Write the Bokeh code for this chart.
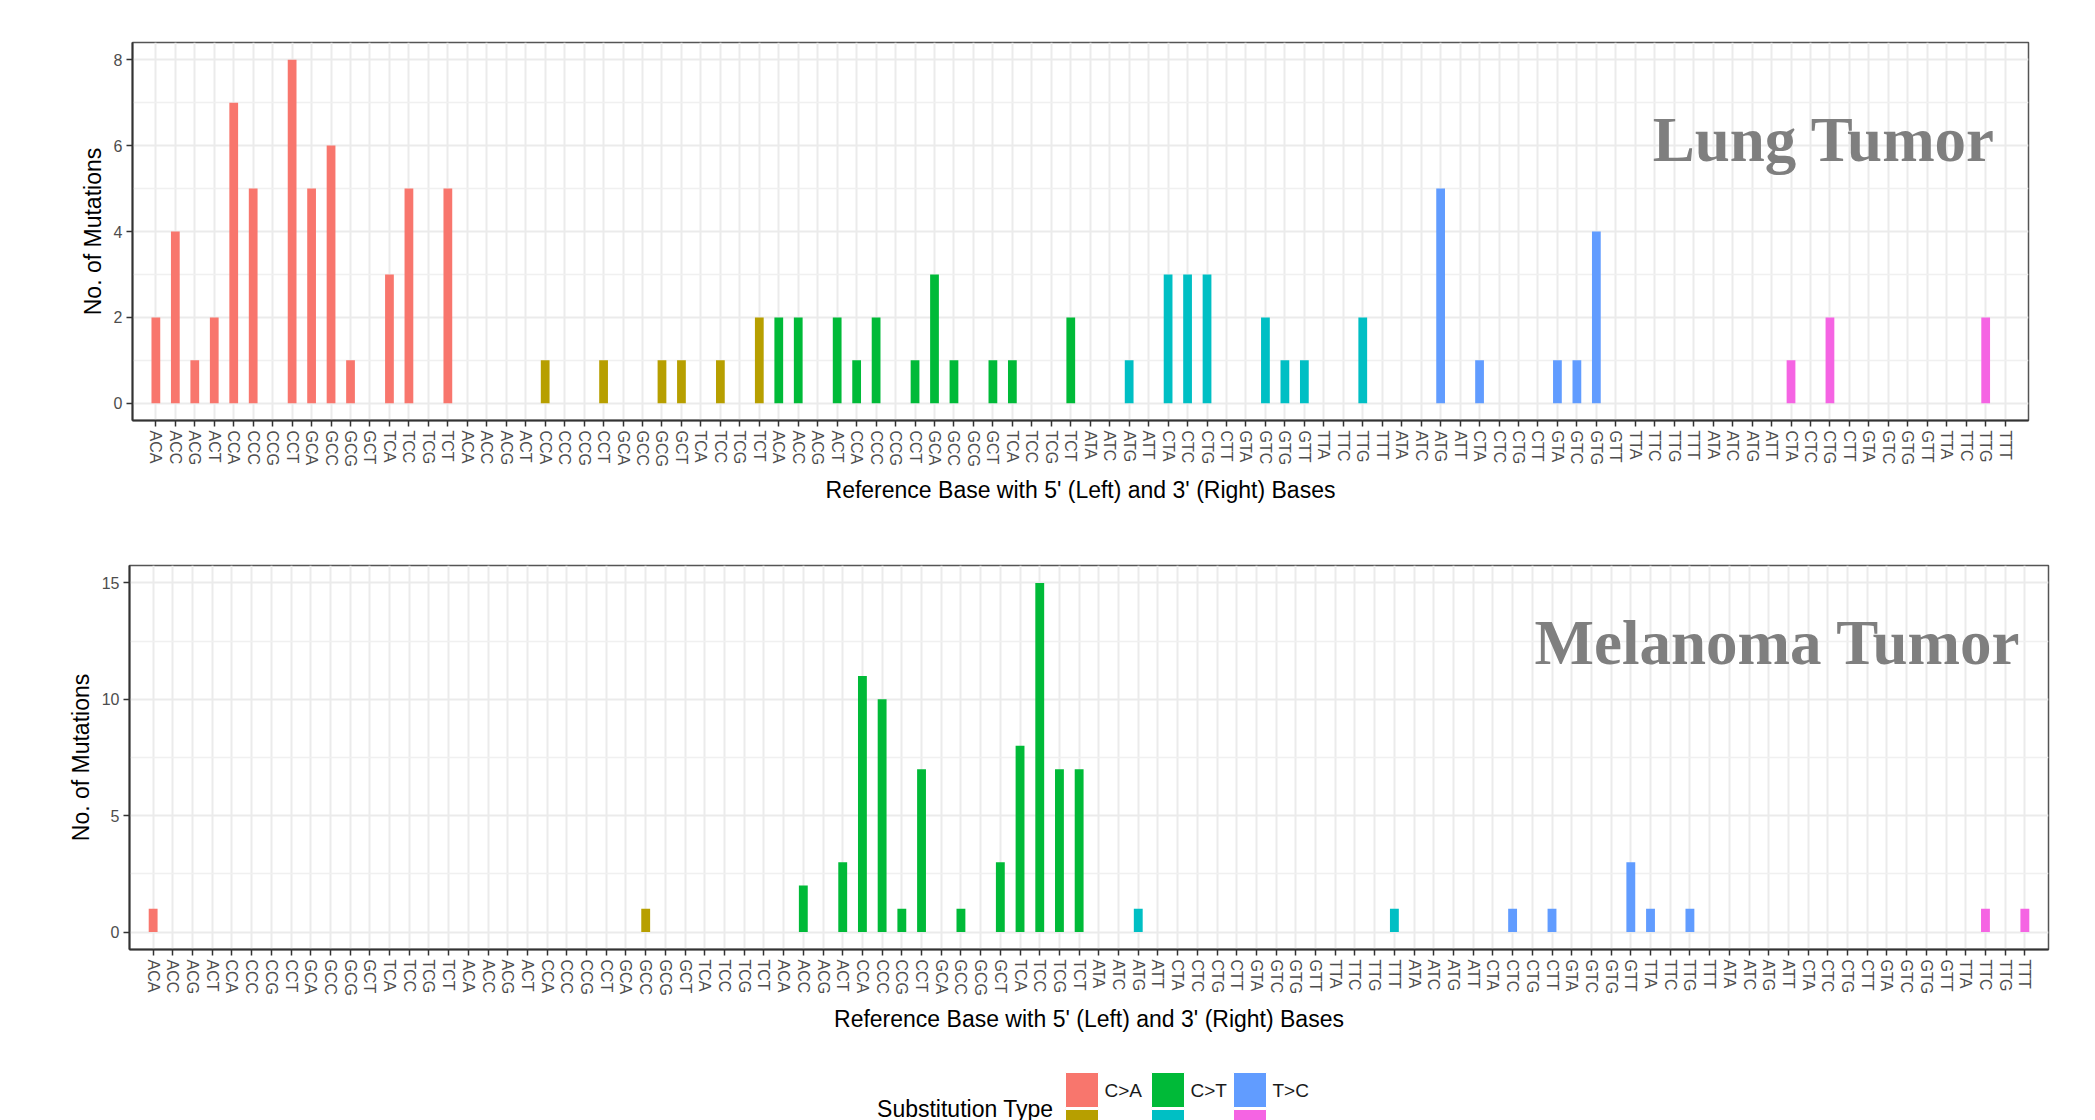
from bokeh.plotting import figure
from bokeh.layouts import column, row
from bokeh.models import Range1d, FixedTicker, Label
from bokeh.embed import file_html
from bokeh.resources import INLINE

# ---------------- data ----------------
sub_types = ["C>A", "C>G", "C>T", "T>A", "T>C", "T>G"]
sub_colors = ["#F8766D", "#B79F00", "#00BA38", "#00BFC4", "#619CFF", "#F564E3"]
ctx_C = ["ACA", "ACC", "ACG", "ACT", "CCA", "CCC", "CCG", "CCT",
         "GCA", "GCC", "GCG", "GCT", "TCA", "TCC", "TCG", "TCT"]
ctx_T = ["ATA", "ATC", "ATG", "ATT", "CTA", "CTC", "CTG", "CTT",
         "GTA", "GTC", "GTG", "GTT", "TTA", "TTC", "TTG", "TTT"]

lung_CA = [2, 4, 1, 2, 7, 5, 0, 8, 5, 6, 1, 0, 3, 5, 0, 5]
lung_CG = [0, 0, 0, 0, 1, 0, 0, 1, 0, 0, 1, 1, 0, 1, 0, 2]
lung_CT = [2, 2, 0, 2, 1, 2, 0, 1, 3, 1, 0, 1, 1, 0, 0, 2]
lung_TA = [0, 0, 1, 0, 3, 3, 3, 0, 0, 2, 1, 1, 0, 0, 2, 0]
lung_TC = [0, 0, 5, 0, 1, 0, 0, 0, 1, 1, 4, 0, 0, 0, 0, 0]
lung_TG = [0, 0, 0, 0, 1, 0, 2, 0, 0, 0, 0, 0, 0, 0, 2, 0]

mel_CA = [1, 0, 0, 0, 0, 0, 0, 0, 0, 0, 0, 0, 0, 0, 0, 0]
mel_CG = [0, 0, 0, 0, 0, 0, 0, 0, 0, 1, 0, 0, 0, 0, 0, 0]
mel_CT = [0, 2, 0, 3, 11, 10, 1, 7, 0, 1, 0, 3, 8, 15, 7, 7]
mel_TA = [0, 0, 1, 0, 0, 0, 0, 0, 0, 0, 0, 0, 0, 0, 0, 1]
mel_TC = [0, 0, 0, 0, 0, 1, 0, 1, 0, 0, 0, 3, 1, 0, 1, 0]
mel_TG = [0, 0, 0, 0, 0, 0, 0, 0, 0, 0, 0, 0, 0, 1, 0, 1]

lung_y_ticks = [0, 2, 4, 6, 8]
lung_y_minor = [1, 3, 5, 7]
mel_y_ticks = [0, 5, 10, 15]
mel_y_minor = [2.5, 7.5, 12.5]

FONT = "Liberation Sans"
W = 2095


def build_panel(series, y_ticks, y_minor, y_lo, y_hi, name, name_x, name_y,
                height, mb_left, mb_right, mb_top, mb_bottom):
    labels = []
    for st in sub_types:
        labels += ctx_C if st.startswith("C") else ctx_T
    n = len(labels)
    pos = list(range(1, n + 1))
    pad = 1.2
    p = figure(width=W, height=height, output_backend="svg", toolbar_location=None,
               title=None, x_range=Range1d(1 - pad, n + pad), y_range=Range1d(y_lo, y_hi),
               min_border_left=mb_left, min_border_right=mb_right,
               min_border_top=mb_top, min_border_bottom=mb_bottom)
    p.background_fill_color = "white"
    p.border_fill_color = "white"
    p.outline_line_color = "#555555"
    p.outline_line_width = 1.5

    for k, (st, col, vals) in enumerate(zip(sub_types, sub_colors, series)):
        xs = pos[k * 16:(k + 1) * 16]
        p.vbar(x=xs, top=vals, bottom=0, width=0.45, fill_color=col, line_color=None)

    p.xaxis.ticker = FixedTicker(ticks=pos)
    p.xaxis.major_label_overrides = {x: lab for x, lab in zip(pos, labels)}
    p.xaxis.major_label_orientation = "vertical"
    p.yaxis.ticker = FixedTicker(ticks=y_ticks, minor_ticks=y_minor)

    for ax in (p.xaxis[0], p.yaxis[0]):
        ax.axis_line_color = "#333333"
        ax.axis_line_width = 2
        ax.major_tick_line_color = "#333333"
        ax.major_tick_line_width = 1.5
        ax.major_tick_in = 0
        ax.major_tick_out = 6
        ax.minor_tick_line_color = None
        ax.major_label_text_font = FONT
        ax.major_label_text_font_size = "16px"
        ax.major_label_text_color = "#4D4D4D"
        ax.major_label_standoff = 4
        ax.axis_label_text_font = FONT
        ax.axis_label_text_font_size = "23px"
        ax.axis_label_text_font_style = "normal"
        ax.axis_label_text_color = "#000000"
    p.xaxis.axis_label = "Reference Base with 5' (Left) and 3' (Right) Bases"
    p.yaxis.axis_label = "No. of Mutations"
    p.xaxis.axis_label_standoff = 7
    p.yaxis.axis_label_standoff = 5

    p.xgrid.ticker = FixedTicker(ticks=pos)
    p.xgrid.grid_line_color = "#EBEBEB"
    p.xgrid.grid_line_width = 2
    p.ygrid.grid_line_color = "#EBEBEB"
    p.ygrid.grid_line_width = 2
    p.ygrid.minor_grid_line_color = "#F0F0F0"
    p.ygrid.minor_grid_line_width = 1.5

    p.add_layout(Label(x=name_x, y=name_y, text=name, text_align="right",
                       text_baseline="alphabetic", text_font="Liberation Serif",
                       text_font_style="bold", text_font_size="63px",
                       text_color="#7F7F7F"))
    return p


top = build_panel([lung_CA, lung_CG, lung_CT, lung_TA, lung_TC, lung_TG],
                  lung_y_ticks, lung_y_minor, -0.4, 8.4, "Lung Tumor", 95.49, 6.13,
                  height=540, mb_left=132, mb_right=67, mb_top=42, mb_bottom=120)
bottom = build_panel([mel_CA, mel_CG, mel_CT, mel_TA, mel_TC, mel_TG],
                     mel_y_ticks, mel_y_minor, -0.75, 15.75, "Melanoma Tumor", 95.78, 12.44,
                     height=522, mb_left=129, mb_right=47, mb_top=25, mb_bottom=113)

# ---------------- legend strip ----------------
LEG_TOP, LEG_H = 1062, 58
leg = figure(width=W, height=LEG_H, output_backend="svg", toolbar_location=None, title=None,
             x_range=Range1d(0, W), y_range=Range1d(LEG_TOP + LEG_H, LEG_TOP),
             x_axis_type=None, y_axis_type=None, min_border=0)
leg.outline_line_color = None
leg.background_fill_color = "white"
leg.border_fill_color = "white"

col_left = [1065, 1151, 1233]
key_w, key_h, row_top, row_gap = 33, 35, 1072, 37
for i, (st, colr) in enumerate(zip(sub_types, sub_colors)):
    c, r = i // 2, i % 2
    l = col_left[c]
    t = row_top + r * row_gap
    leg.quad(left=l, right=l + key_w, top=t, bottom=t + key_h,
             fill_color=colr, line_color="white", line_width=1)
    leg.add_layout(Label(x=l + key_w + 6, y=t + key_h / 2, text=st, text_align="left",
                         text_baseline="middle", text_font=FONT, text_font_size="19px",
                         text_color="#1A1A1A"))
leg.add_layout(Label(x=1053, y=1108, text="Substitution Type", text_align="right",
                     text_baseline="middle", text_font=FONT, text_font_size="23px",
                     text_color="#000000"))

layout = column(row(top), row(bottom), row(leg), spacing=0)
open("out.html", "w").write(file_html(layout, INLINE))
